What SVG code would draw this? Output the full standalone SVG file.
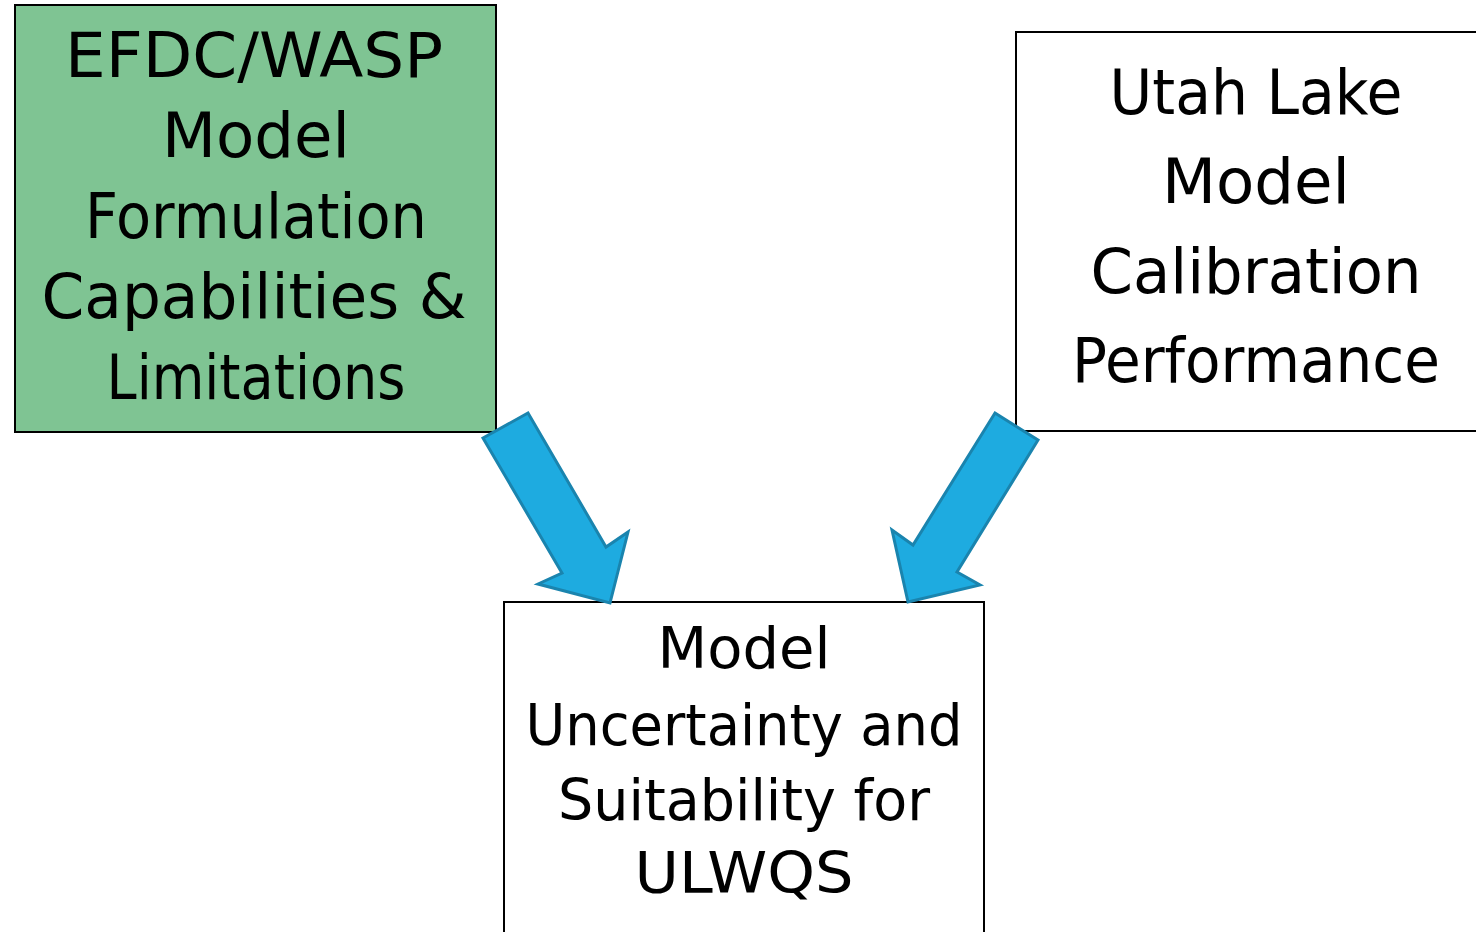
<svg xmlns="http://www.w3.org/2000/svg" width="1476" height="932" viewBox="0 0 1476 932">
<style>
.box{stroke:#000;stroke-width:2}
.t{font-family:"DejaVu Sans","Liberation Sans",sans-serif;fill:#000;text-anchor:middle;font-variant-ligatures:none}
.l{font-size:62px}
.r{font-size:63px}
.b{font-size:57px}
.arrow{fill:#1EABE0;stroke:#1A84AE;stroke-width:3;stroke-linejoin:miter}
</style>
<rect width="1476" height="932" fill="#fff"/>
<g id="node-efdc">
<rect class="box" x="15" y="5" width="481" height="427" fill="#7FC493"/>
<text class="t l" x="254" y="77" textLength="378" lengthAdjust="spacingAndGlyphs">EFDC/WASP</text>
<text class="t l" x="256" y="157" textLength="188" lengthAdjust="spacingAndGlyphs">Model</text>
<text class="t l" x="256" y="238" textLength="342" lengthAdjust="spacingAndGlyphs">Formulation</text>
<text class="t l" x="254" y="318" textLength="425" lengthAdjust="spacingAndGlyphs">Capabilities &amp;</text>
<text class="t l" x="256" y="399" textLength="299" lengthAdjust="spacingAndGlyphs">Limitations</text>
</g>
<g id="node-utah">
<rect class="box" x="1016" y="32" width="480" height="399" fill="#fff"/>
<text class="t r" x="1256" y="114" textLength="293" lengthAdjust="spacingAndGlyphs">Utah Lake</text>
<text class="t r" x="1256" y="203" textLength="188" lengthAdjust="spacingAndGlyphs">Model</text>
<text class="t r" x="1256" y="293" textLength="331" lengthAdjust="spacingAndGlyphs">Calibration</text>
<text class="t r" x="1256" y="382" textLength="368" lengthAdjust="spacingAndGlyphs">Performance</text>
</g>
<g id="node-uncertainty">
<rect class="box" x="504" y="602" width="480" height="340" fill="#fff"/>
<text class="t b" x="744" y="668" textLength="173" lengthAdjust="spacingAndGlyphs">Model</text>
<text class="t b" x="744" y="745" textLength="437" lengthAdjust="spacingAndGlyphs">Uncertainty and</text>
<text class="t b" x="744" y="820" textLength="372" lengthAdjust="spacingAndGlyphs">Suitability for</text>
<text class="t b" x="744" y="893" textLength="219" lengthAdjust="spacingAndGlyphs">ULWQS</text>
</g>
<g id="connectors">
<polygon class="arrow" points="483,438 528,413 606,547 628,532 610,603 538,584 562,573"/>
<polygon class="arrow" points="995,413 1038,440 957,572 980,585 908,602 892,530 913,545"/>
</g>
</svg>
